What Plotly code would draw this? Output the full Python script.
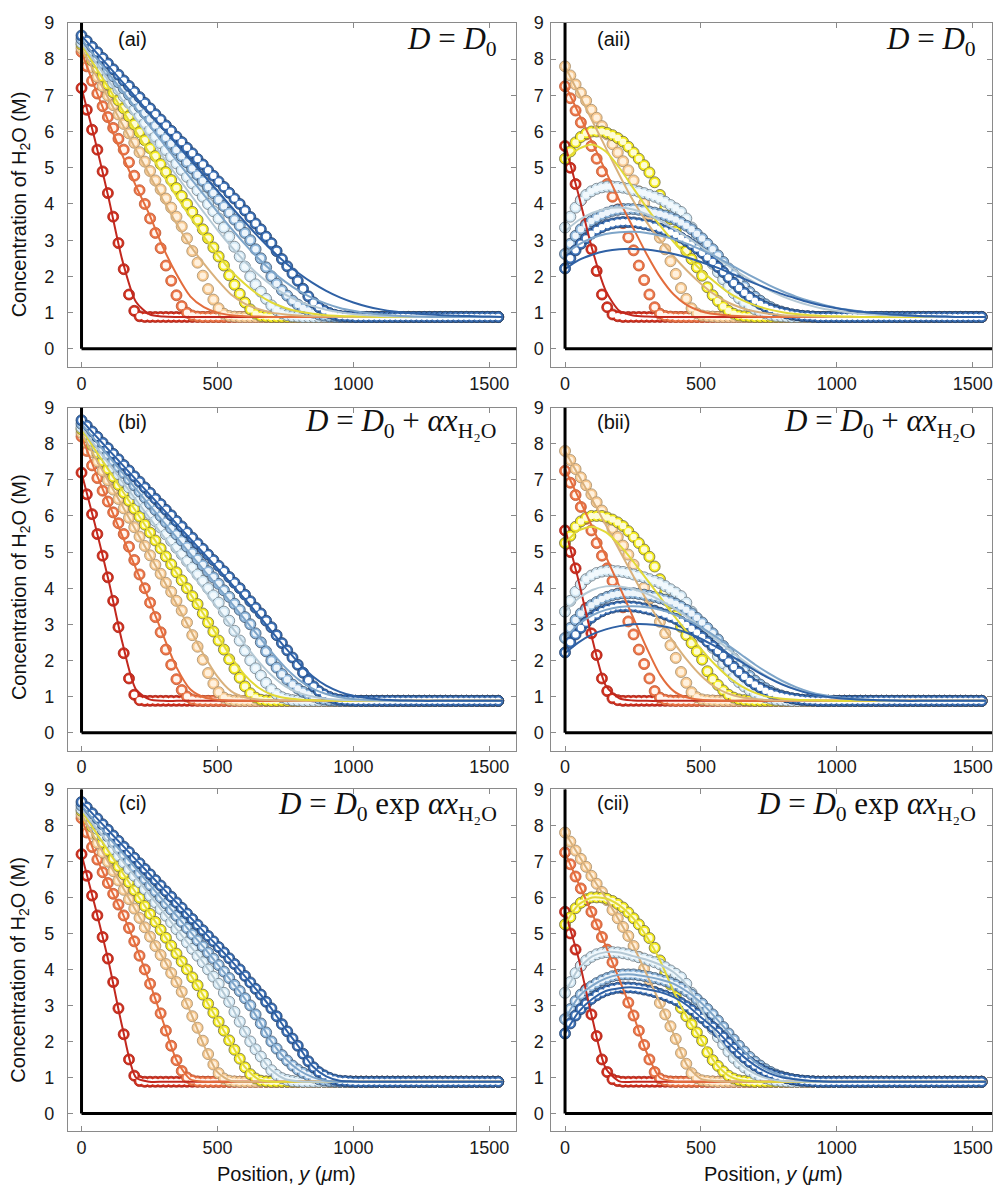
import plotly.graph_objects as go

W, H = 993, 1186

# ---- sampling grids (micrometres) ----------------------------------------
STEP_UM = 19.4
marker_pos = [round(i * STEP_UM, 1) for i in range(80)]
fit_pos = [50 * k for k in range(32)]

# ---- measured H2O profiles, column (i)  (M), one value per marker position
mi_red = [
    7.2, 6.6, 6.05, 5.5, 4.9, 4.3, 3.65, 2.92, 2.2, 1.5,
    1.05, 0.9, 0.88, 0.88, 0.88, 0.88, 0.88, 0.88, 0.88, 0.88,
    0.88, 0.88, 0.88, 0.88, 0.88, 0.88, 0.88, 0.88, 0.88, 0.88,
    0.88, 0.88, 0.88, 0.88, 0.88, 0.88, 0.88, 0.88, 0.88, 0.88,
    0.88, 0.88, 0.88, 0.88, 0.88, 0.88, 0.88, 0.88, 0.88, 0.88,
    0.88, 0.88, 0.88, 0.88, 0.88, 0.88, 0.88, 0.88, 0.88, 0.88,
    0.88, 0.88, 0.88, 0.88, 0.88, 0.88, 0.88, 0.88, 0.88, 0.88,
    0.88, 0.88, 0.88, 0.88, 0.88, 0.88, 0.88, 0.88, 0.88, 0.88,
]
mi_orange = [
    8.2, 7.8, 7.4, 7.05, 6.7, 6.4, 6.1, 5.8, 5.5, 5.15,
    4.78, 4.38, 4.0, 3.6, 3.2, 2.78, 2.3, 1.88, 1.48, 1.18,
    1.0, 0.92, 0.89, 0.88, 0.88, 0.88, 0.88, 0.88, 0.88, 0.88,
    0.88, 0.88, 0.88, 0.88, 0.88, 0.88, 0.88, 0.88, 0.88, 0.88,
    0.88, 0.88, 0.88, 0.88, 0.88, 0.88, 0.88, 0.88, 0.88, 0.88,
    0.88, 0.88, 0.88, 0.88, 0.88, 0.88, 0.88, 0.88, 0.88, 0.88,
    0.88, 0.88, 0.88, 0.88, 0.88, 0.88, 0.88, 0.88, 0.88, 0.88,
    0.88, 0.88, 0.88, 0.88, 0.88, 0.88, 0.88, 0.88, 0.88, 0.88,
]
mi_peach = [
    8.3, 8.03, 7.77, 7.51, 7.25, 6.99, 6.73, 6.47, 6.21, 5.95,
    5.69, 5.43, 5.17, 4.91, 4.65, 4.4, 4.15, 3.9, 3.65, 3.38,
    3.05, 2.7, 2.38, 2.02, 1.65, 1.36, 1.12, 0.97, 0.91, 0.89,
    0.88, 0.88, 0.88, 0.88, 0.88, 0.88, 0.88, 0.88, 0.88, 0.88,
    0.88, 0.88, 0.88, 0.88, 0.88, 0.88, 0.88, 0.88, 0.88, 0.88,
    0.88, 0.88, 0.88, 0.88, 0.88, 0.88, 0.88, 0.88, 0.88, 0.88,
    0.88, 0.88, 0.88, 0.88, 0.88, 0.88, 0.88, 0.88, 0.88, 0.88,
    0.88, 0.88, 0.88, 0.88, 0.88, 0.88, 0.88, 0.88, 0.88, 0.88,
]
mi_yellow = [
    8.4, 8.18, 7.96, 7.74, 7.52, 7.3, 7.08, 6.86, 6.64, 6.42,
    6.2, 5.98, 5.76, 5.54, 5.32, 5.1, 4.88, 4.66, 4.44, 4.22,
    4.0, 3.78, 3.56, 3.3, 3.05, 2.8, 2.55, 2.3, 2.03, 1.77,
    1.52, 1.28, 1.09, 0.97, 0.91, 0.89, 0.88, 0.88, 0.88, 0.88,
    0.88, 0.88, 0.88, 0.88, 0.88, 0.88, 0.88, 0.88, 0.88, 0.88,
    0.88, 0.88, 0.88, 0.88, 0.88, 0.88, 0.88, 0.88, 0.88, 0.88,
    0.88, 0.88, 0.88, 0.88, 0.88, 0.88, 0.88, 0.88, 0.88, 0.88,
    0.88, 0.88, 0.88, 0.88, 0.88, 0.88, 0.88, 0.88, 0.88, 0.88,
]
mi_pale = [
    8.45, 8.27, 8.08, 7.9, 7.71, 7.53, 7.34, 7.16, 6.97, 6.79,
    6.6, 6.42, 6.23, 6.05, 5.86, 5.68, 5.49, 5.31, 5.12, 4.94,
    4.75, 4.57, 4.38, 4.2, 4.0, 3.8, 3.6, 3.35, 3.1, 2.82,
    2.55, 2.27, 2.0, 1.78, 1.58, 1.38, 1.2, 1.07, 0.98, 0.93,
    0.9, 0.89, 0.88, 0.88, 0.88, 0.88, 0.88, 0.88, 0.88, 0.88,
    0.88, 0.88, 0.88, 0.88, 0.88, 0.88, 0.88, 0.88, 0.88, 0.88,
    0.88, 0.88, 0.88, 0.88, 0.88, 0.88, 0.88, 0.88, 0.88, 0.88,
    0.88, 0.88, 0.88, 0.88, 0.88, 0.88, 0.88, 0.88, 0.88, 0.88,
]
mi_light = [
    8.55, 8.38, 8.21, 8.04, 7.87, 7.7, 7.53, 7.36, 7.19, 7.02,
    6.85, 6.68, 6.51, 6.34, 6.17, 6.0, 5.83, 5.66, 5.49, 5.32,
    5.15, 4.98, 4.81, 4.64, 4.47, 4.3, 4.12, 3.94, 3.76, 3.57,
    3.4, 3.2, 3.0, 2.75, 2.5, 2.25, 2.0, 1.8, 1.62, 1.47,
    1.33, 1.22, 1.13, 1.06, 1.0, 0.95, 0.92, 0.9, 0.89, 0.88,
    0.88, 0.88, 0.88, 0.88, 0.88, 0.88, 0.88, 0.88, 0.88, 0.88,
    0.88, 0.88, 0.88, 0.88, 0.88, 0.88, 0.88, 0.88, 0.88, 0.88,
    0.88, 0.88, 0.88, 0.88, 0.88, 0.88, 0.88, 0.88, 0.88, 0.88,
]
mi_dark = [
    8.65, 8.5, 8.34, 8.19, 8.03, 7.88, 7.72, 7.57, 7.41, 7.26,
    7.1, 6.95, 6.79, 6.64, 6.48, 6.33, 6.17, 6.02, 5.86, 5.71,
    5.55, 5.4, 5.24, 5.09, 4.93, 4.78, 4.62, 4.47, 4.31, 4.15,
    4.0, 3.82, 3.64, 3.46, 3.3, 3.1, 2.92, 2.7, 2.48, 2.28,
    2.08, 1.88, 1.66, 1.45, 1.28, 1.15, 1.06, 0.99, 0.94, 0.91,
    0.9, 0.89, 0.88, 0.88, 0.88, 0.88, 0.88, 0.88, 0.88, 0.88,
    0.88, 0.88, 0.88, 0.88, 0.88, 0.88, 0.88, 0.88, 0.88, 0.88,
    0.88, 0.88, 0.88, 0.88, 0.88, 0.88, 0.88, 0.88, 0.88, 0.88,
]

# ---- measured H2O profiles, column (ii) ------------------------------------
mii_red = [
    5.6, 5.0, 4.55, 4.1, 3.45, 2.75, 2.15, 1.5, 1.15, 0.95,
    0.9, 0.88, 0.88, 0.88, 0.88, 0.88, 0.88, 0.88, 0.88, 0.88,
    0.88, 0.88, 0.88, 0.88, 0.88, 0.88, 0.88, 0.88, 0.88, 0.88,
    0.88, 0.88, 0.88, 0.88, 0.88, 0.88, 0.88, 0.88, 0.88, 0.88,
    0.88, 0.88, 0.88, 0.88, 0.88, 0.88, 0.88, 0.88, 0.88, 0.88,
    0.88, 0.88, 0.88, 0.88, 0.88, 0.88, 0.88, 0.88, 0.88, 0.88,
    0.88, 0.88, 0.88, 0.88, 0.88, 0.88, 0.88, 0.88, 0.88, 0.88,
    0.88, 0.88, 0.88, 0.88, 0.88, 0.88, 0.88, 0.88, 0.88, 0.88,
]
mii_orange = [
    7.25, 6.92, 6.58, 6.25, 5.92, 5.6, 5.25, 4.9, 4.55, 4.2,
    3.85, 3.47, 3.08, 2.72, 2.3, 1.9, 1.5, 1.15, 0.97, 0.91,
    0.89, 0.88, 0.88, 0.88, 0.88, 0.88, 0.88, 0.88, 0.88, 0.88,
    0.88, 0.88, 0.88, 0.88, 0.88, 0.88, 0.88, 0.88, 0.88, 0.88,
    0.88, 0.88, 0.88, 0.88, 0.88, 0.88, 0.88, 0.88, 0.88, 0.88,
    0.88, 0.88, 0.88, 0.88, 0.88, 0.88, 0.88, 0.88, 0.88, 0.88,
    0.88, 0.88, 0.88, 0.88, 0.88, 0.88, 0.88, 0.88, 0.88, 0.88,
    0.88, 0.88, 0.88, 0.88, 0.88, 0.88, 0.88, 0.88, 0.88, 0.88,
]
mii_peach = [
    7.8, 7.55, 7.3, 7.07, 6.85, 6.6, 6.38, 6.15, 5.92, 5.65,
    5.42, 5.18, 4.93, 4.65, 4.35, 4.02, 3.7, 3.38, 3.07, 2.75,
    2.42, 2.07, 1.68, 1.38, 1.12, 0.98, 0.92, 0.9, 0.89, 0.88,
    0.88, 0.88, 0.88, 0.88, 0.88, 0.88, 0.88, 0.88, 0.88, 0.88,
    0.88, 0.88, 0.88, 0.88, 0.88, 0.88, 0.88, 0.88, 0.88, 0.88,
    0.88, 0.88, 0.88, 0.88, 0.88, 0.88, 0.88, 0.88, 0.88, 0.88,
    0.88, 0.88, 0.88, 0.88, 0.88, 0.88, 0.88, 0.88, 0.88, 0.88,
    0.88, 0.88, 0.88, 0.88, 0.88, 0.88, 0.88, 0.88, 0.88, 0.88,
]
mii_yellow = [
    5.25, 5.45, 5.7, 5.85, 5.95, 6.0, 6.0, 6.0, 5.96, 5.9,
    5.82, 5.72, 5.58, 5.42, 5.25, 5.07, 4.87, 4.6, 4.25, 3.9,
    3.58, 3.25, 2.93, 2.7, 2.48, 2.25, 2.02, 1.7, 1.48, 1.32,
    1.17, 1.05, 0.97, 0.92, 0.9, 0.89, 0.88, 0.88, 0.88, 0.88,
    0.88, 0.88, 0.88, 0.88, 0.88, 0.88, 0.88, 0.88, 0.88, 0.88,
    0.88, 0.88, 0.88, 0.88, 0.88, 0.88, 0.88, 0.88, 0.88, 0.88,
    0.88, 0.88, 0.88, 0.88, 0.88, 0.88, 0.88, 0.88, 0.88, 0.88,
    0.88, 0.88, 0.88, 0.88, 0.88, 0.88, 0.88, 0.88, 0.88, 0.88,
]
mii_pale = [
    3.35, 3.65, 3.9, 4.1, 4.25, 4.35, 4.42, 4.46, 4.48, 4.48,
    4.47, 4.45, 4.42, 4.38, 4.34, 4.3, 4.25, 4.2, 4.14, 4.06,
    3.97, 3.88, 3.78, 3.6, 3.35, 3.1, 2.85, 2.6, 2.35, 2.12,
    1.92, 1.72, 1.54, 1.4, 1.28, 1.18, 1.1, 1.03, 0.98, 0.94,
    0.91, 0.9, 0.89, 0.88, 0.88, 0.88, 0.88, 0.88, 0.88, 0.88,
    0.88, 0.88, 0.88, 0.88, 0.88, 0.88, 0.88, 0.88, 0.88, 0.88,
    0.88, 0.88, 0.88, 0.88, 0.88, 0.88, 0.88, 0.88, 0.88, 0.88,
    0.88, 0.88, 0.88, 0.88, 0.88, 0.88, 0.88, 0.88, 0.88, 0.88,
]
mii_light = [
    2.62, 2.9, 3.12, 3.3, 3.42, 3.53, 3.62, 3.7, 3.76, 3.81,
    3.84, 3.86, 3.86, 3.86, 3.84, 3.82, 3.79, 3.76, 3.72, 3.68,
    3.63, 3.57, 3.49, 3.4, 3.3, 3.18, 3.05, 2.9, 2.75, 2.58,
    2.4, 2.22, 2.05, 1.88, 1.72, 1.57, 1.44, 1.33, 1.23, 1.15,
    1.08, 1.03, 0.99, 0.95, 0.93, 0.91, 0.9, 0.89, 0.88, 0.88,
    0.88, 0.88, 0.88, 0.88, 0.88, 0.88, 0.88, 0.88, 0.88, 0.88,
    0.88, 0.88, 0.88, 0.88, 0.88, 0.88, 0.88, 0.88, 0.88, 0.88,
    0.88, 0.88, 0.88, 0.88, 0.88, 0.88, 0.88, 0.88, 0.88, 0.88,
]
mii_dark = [
    2.22, 2.5, 2.72, 2.9, 3.05, 3.18, 3.28, 3.36, 3.42, 3.46,
    3.49, 3.5, 3.5, 3.49, 3.47, 3.44, 3.41, 3.37, 3.32, 3.27,
    3.21, 3.15, 3.07, 2.98, 2.88, 2.77, 2.65, 2.52, 2.4, 2.26,
    2.12, 1.97, 1.82, 1.68, 1.55, 1.43, 1.33, 1.24, 1.16, 1.1,
    1.05, 1.01, 0.98, 0.95, 0.93, 0.91, 0.9, 0.89, 0.88, 0.88,
    0.88, 0.88, 0.88, 0.88, 0.88, 0.88, 0.88, 0.88, 0.88, 0.88,
    0.88, 0.88, 0.88, 0.88, 0.88, 0.88, 0.88, 0.88, 0.88, 0.88,
    0.88, 0.88, 0.88, 0.88, 0.88, 0.88, 0.88, 0.88, 0.88, 0.88,
]

# ---- model fits, one value every 50 um (0 ... 1550) ------------------------
# row (a): D = D0
fa_i_red = [7.2, 5.75, 4.15, 2.45, 1.3, 0.95, 0.89, 0.88,
            0.88, 0.88, 0.88, 0.88, 0.88, 0.88, 0.88, 0.88,
            0.88, 0.88, 0.88, 0.88, 0.88, 0.88, 0.88, 0.88,
            0.88, 0.88, 0.88, 0.88, 0.88, 0.88, 0.88, 0.88]
fa_i_orange = [8.2, 7.2, 6.25, 5.35, 4.5, 3.7, 2.8, 2.05,
               1.45, 1.15, 1.0, 0.93, 0.9, 0.89, 0.88, 0.88,
               0.88, 0.88, 0.88, 0.88, 0.88, 0.88, 0.88, 0.88,
               0.88, 0.88, 0.88, 0.88, 0.88, 0.88, 0.88, 0.88]
fa_i_peach = [8.3, 7.6, 6.9, 6.2, 5.5, 4.8, 4.1, 3.45,
              2.85, 2.35, 1.9, 1.5, 1.25, 1.1, 1.0, 0.95,
              0.92, 0.9, 0.89, 0.88, 0.88, 0.88, 0.88, 0.88,
              0.88, 0.88, 0.88, 0.88, 0.88, 0.88, 0.88, 0.88]
fa_i_yellow = [8.4, 7.8, 7.2, 6.6, 6.0, 5.4, 4.8, 4.2,
               3.65, 3.1, 2.6, 2.15, 1.8, 1.5, 1.28, 1.13,
               1.03, 0.97, 0.93, 0.91, 0.9, 0.89, 0.88, 0.88,
               0.88, 0.88, 0.88, 0.88, 0.88, 0.88, 0.88, 0.88]
fa_i_pale = [8.45, 7.92, 7.4, 6.87, 6.35, 5.82, 5.3, 4.78,
             4.27, 3.77, 3.28, 2.83, 2.42, 2.05, 1.75, 1.5,
             1.32, 1.18, 1.08, 1.01, 0.96, 0.93, 0.91, 0.9,
             0.89, 0.88, 0.88, 0.88, 0.88, 0.88, 0.88, 0.88]
fa_i_light = [8.55, 8.07, 7.6, 7.12, 6.64, 6.16, 5.68, 5.2,
              4.72, 4.25, 3.78, 3.33, 2.9, 2.5, 2.15, 1.85,
              1.6, 1.4, 1.25, 1.13, 1.05, 0.99, 0.95, 0.92,
              0.9, 0.89, 0.88, 0.88, 0.88, 0.88, 0.88, 0.88]
fa_i_dark = [8.65, 8.22, 7.8, 7.37, 6.94, 6.51, 6.08, 5.65,
             5.22, 4.79, 4.36, 3.93, 3.51, 3.1, 2.72, 2.38,
             2.08, 1.82, 1.6, 1.42, 1.28, 1.17, 1.09, 1.03,
             0.99, 0.96, 0.94, 0.92, 0.91, 0.9, 0.89, 0.88]

fa_ii_red = [5.65, 4.25, 2.75, 1.6, 1.05, 0.92, 0.89, 0.88,
             0.88, 0.88, 0.88, 0.88, 0.88, 0.88, 0.88, 0.88,
             0.88, 0.88, 0.88, 0.88, 0.88, 0.88, 0.88, 0.88,
             0.88, 0.88, 0.88, 0.88, 0.88, 0.88, 0.88, 0.88]
fa_ii_orange = [7.3, 6.5, 5.7, 4.9, 4.1, 3.35, 2.62, 1.98,
                1.5, 1.2, 1.04, 0.96, 0.92, 0.9, 0.89, 0.88,
                0.88, 0.88, 0.88, 0.88, 0.88, 0.88, 0.88, 0.88,
                0.88, 0.88, 0.88, 0.88, 0.88, 0.88, 0.88, 0.88]
fa_ii_peach = [7.8, 7.05, 6.3, 5.55, 4.8, 4.1, 3.5, 3.0,
               2.55, 2.15, 1.8, 1.5, 1.28, 1.13, 1.03, 0.97,
               0.93, 0.91, 0.9, 0.89, 0.88, 0.88, 0.88, 0.88,
               0.88, 0.88, 0.88, 0.88, 0.88, 0.88, 0.88, 0.88]
fa_ii_yellow = [5.2, 5.52, 5.64, 5.45, 5.0, 4.45, 3.9, 3.4,
                2.95, 2.55, 2.18, 1.85, 1.56, 1.35, 1.2, 1.09,
                1.01, 0.96, 0.93, 0.91, 0.9, 0.89, 0.88, 0.88,
                0.88, 0.88, 0.88, 0.88, 0.88, 0.88, 0.88, 0.88]
fa_ii_pale = [3.25, 3.55, 3.75, 3.87, 3.9, 3.85, 3.72, 3.54,
              3.32, 3.08, 2.82, 2.56, 2.3, 2.05, 1.82, 1.62,
              1.45, 1.31, 1.2, 1.11, 1.05, 1.0, 0.96, 0.94,
              0.92, 0.91, 0.9, 0.89, 0.88, 0.88, 0.88, 0.88]
fa_ii_light = [2.62, 2.88, 3.06, 3.17, 3.22, 3.23, 3.2, 3.13,
               3.03, 2.9, 2.74, 2.56, 2.36, 2.15, 1.95, 1.76,
               1.59, 1.44, 1.32, 1.22, 1.13, 1.07, 1.02, 0.98,
               0.95, 0.93, 0.91, 0.9, 0.89, 0.88, 0.88, 0.88]
fa_ii_dark = [2.2, 2.45, 2.6, 2.7, 2.75, 2.76, 2.74, 2.69,
              2.62, 2.52, 2.4, 2.27, 2.12, 1.96, 1.8, 1.65,
              1.51, 1.39, 1.28, 1.19, 1.12, 1.06, 1.02, 0.98,
              0.95, 0.93, 0.91, 0.9, 0.89, 0.88, 0.88, 0.88]

# row (b): D = D0 + alpha * x_H2O
fb_i_red = [7.2, 5.75, 4.2, 2.5, 1.2, 0.92, 0.88, 0.88,
            0.88, 0.88, 0.88, 0.88, 0.88, 0.88, 0.88, 0.88,
            0.88, 0.88, 0.88, 0.88, 0.88, 0.88, 0.88, 0.88,
            0.88, 0.88, 0.88, 0.88, 0.88, 0.88, 0.88, 0.88]
fb_i_orange = [8.2, 7.25, 6.35, 5.45, 4.55, 3.65, 2.7, 1.8,
               1.2, 0.98, 0.91, 0.89, 0.88, 0.88, 0.88, 0.88,
               0.88, 0.88, 0.88, 0.88, 0.88, 0.88, 0.88, 0.88,
               0.88, 0.88, 0.88, 0.88, 0.88, 0.88, 0.88, 0.88]
fb_i_peach = [8.3, 7.62, 6.95, 6.28, 5.6, 4.93, 4.25, 3.55,
              2.85, 2.15, 1.55, 1.15, 0.98, 0.92, 0.9, 0.89,
              0.88, 0.88, 0.88, 0.88, 0.88, 0.88, 0.88, 0.88,
              0.88, 0.88, 0.88, 0.88, 0.88, 0.88, 0.88, 0.88]
fb_i_yellow = [8.4, 7.83, 7.27, 6.7, 6.13, 5.56, 4.99, 4.42,
               3.85, 3.27, 2.68, 2.1, 1.6, 1.25, 1.05, 0.96,
               0.92, 0.9, 0.89, 0.88, 0.88, 0.88, 0.88, 0.88,
               0.88, 0.88, 0.88, 0.88, 0.88, 0.88, 0.88, 0.88]
fb_i_pale = [8.45, 7.95, 7.45, 6.95, 6.45, 5.95, 5.45, 4.95,
             4.45, 3.95, 3.45, 2.95, 2.45, 1.98, 1.58, 1.28,
             1.1, 1.0, 0.94, 0.91, 0.9, 0.89, 0.88, 0.88,
             0.88, 0.88, 0.88, 0.88, 0.88, 0.88, 0.88, 0.88]
fb_i_light = [8.55, 8.1, 7.65, 7.2, 6.75, 6.3, 5.85, 5.4,
              4.95, 4.5, 4.05, 3.6, 3.14, 2.68, 2.22, 1.8,
              1.46, 1.22, 1.07, 0.98, 0.93, 0.91, 0.9, 0.89,
              0.88, 0.88, 0.88, 0.88, 0.88, 0.88, 0.88, 0.88]
fb_i_dark = [8.65, 8.24, 7.83, 7.42, 7.01, 6.6, 6.19, 5.78,
             5.37, 4.96, 4.55, 4.13, 3.7, 3.26, 2.8, 2.35,
             1.92, 1.56, 1.3, 1.13, 1.02, 0.96, 0.92, 0.9,
             0.89, 0.88, 0.88, 0.88, 0.88, 0.88, 0.88, 0.88]

fb_ii_red = [5.65, 4.2, 2.6, 1.3, 0.95, 0.89, 0.88, 0.88,
             0.88, 0.88, 0.88, 0.88, 0.88, 0.88, 0.88, 0.88,
             0.88, 0.88, 0.88, 0.88, 0.88, 0.88, 0.88, 0.88,
             0.88, 0.88, 0.88, 0.88, 0.88, 0.88, 0.88, 0.88]
fb_ii_orange = [7.3, 6.5, 5.7, 4.88, 4.05, 3.2, 2.35, 1.6,
                1.15, 0.97, 0.91, 0.89, 0.88, 0.88, 0.88, 0.88,
                0.88, 0.88, 0.88, 0.88, 0.88, 0.88, 0.88, 0.88,
                0.88, 0.88, 0.88, 0.88, 0.88, 0.88, 0.88, 0.88]
fb_ii_peach = [7.8, 7.12, 6.45, 5.75, 5.05, 4.35, 3.67, 3.05,
               2.5, 2.0, 1.58, 1.27, 1.08, 0.98, 0.93, 0.9,
               0.89, 0.88, 0.88, 0.88, 0.88, 0.88, 0.88, 0.88,
               0.88, 0.88, 0.88, 0.88, 0.88, 0.88, 0.88, 0.88]
fb_ii_yellow = [5.25, 5.6, 5.7, 5.55, 5.2, 4.75, 4.25, 3.75,
                3.25, 2.78, 2.32, 1.9, 1.55, 1.28, 1.1, 0.99,
                0.94, 0.91, 0.9, 0.89, 0.88, 0.88, 0.88, 0.88,
                0.88, 0.88, 0.88, 0.88, 0.88, 0.88, 0.88, 0.88]
fb_ii_pale = [3.35, 3.72, 3.95, 4.05, 4.05, 3.98, 3.85, 3.67,
              3.45, 3.2, 2.92, 2.62, 2.32, 2.03, 1.76, 1.53,
              1.34, 1.2, 1.09, 1.01, 0.96, 0.93, 0.91, 0.9,
              0.89, 0.88, 0.88, 0.88, 0.88, 0.88, 0.88, 0.88]
fb_ii_light = [2.62, 3.0, 3.25, 3.4, 3.48, 3.5, 3.47, 3.4,
               3.28, 3.12, 2.92, 2.68, 2.42, 2.15, 1.88, 1.64,
               1.43, 1.26, 1.13, 1.04, 0.98, 0.94, 0.92, 0.9,
               0.89, 0.88, 0.88, 0.88, 0.88, 0.88, 0.88, 0.88]
fb_ii_dark = [2.2, 2.5, 2.72, 2.86, 2.95, 3.0, 3.0, 2.96,
              2.88, 2.76, 2.6, 2.4, 2.18, 1.95, 1.72, 1.51,
              1.33, 1.19, 1.08, 1.01, 0.96, 0.93, 0.91, 0.9,
              0.89, 0.88, 0.88, 0.88, 0.88, 0.88, 0.88, 0.88]

# row (c): D = D0 exp(alpha * x_H2O)
fc_i_red = [7.2, 5.75, 4.2, 2.4, 1.0, 0.88, 0.88, 0.88,
            0.88, 0.88, 0.88, 0.88, 0.88, 0.88, 0.88, 0.88,
            0.88, 0.88, 0.88, 0.88, 0.88, 0.88, 0.88, 0.88,
            0.88, 0.88, 0.88, 0.88, 0.88, 0.88, 0.88, 0.88]
fc_i_orange = [8.2, 7.2, 6.35, 5.57, 4.65, 3.65, 2.55, 1.47,
               0.95, 0.88, 0.88, 0.88, 0.88, 0.88, 0.88, 0.88,
               0.88, 0.88, 0.88, 0.88, 0.88, 0.88, 0.88, 0.88,
               0.88, 0.88, 0.88, 0.88, 0.88, 0.88, 0.88, 0.88]
fc_i_peach = [8.3, 7.63, 6.96, 6.3, 5.63, 4.97, 4.32, 3.64,
              2.83, 1.9, 1.15, 0.9, 0.88, 0.88, 0.88, 0.88,
              0.88, 0.88, 0.88, 0.88, 0.88, 0.88, 0.88, 0.88,
              0.88, 0.88, 0.88, 0.88, 0.88, 0.88, 0.88, 0.88]
fc_i_yellow = [8.4, 7.84, 7.27, 6.7, 6.13, 5.57, 5.0, 4.43,
               3.87, 3.25, 2.6, 1.95, 1.3, 0.95, 0.88, 0.88,
               0.88, 0.88, 0.88, 0.88, 0.88, 0.88, 0.88, 0.88,
               0.88, 0.88, 0.88, 0.88, 0.88, 0.88, 0.88, 0.88]
fc_i_pale = [8.45, 7.97, 7.5, 7.02, 6.55, 6.07, 5.6, 5.12,
             4.65, 4.17, 3.62, 3.0, 2.28, 1.68, 1.19, 0.95,
             0.89, 0.88, 0.88, 0.88, 0.88, 0.88, 0.88, 0.88,
             0.88, 0.88, 0.88, 0.88, 0.88, 0.88, 0.88, 0.88]
fc_i_light = [8.55, 8.11, 7.67, 7.24, 6.8, 6.36, 5.92, 5.49,
              5.05, 4.61, 4.15, 3.69, 3.2, 2.62, 1.98, 1.52,
              1.2, 1.01, 0.91, 0.88, 0.88, 0.88, 0.88, 0.88,
              0.88, 0.88, 0.88, 0.88, 0.88, 0.88, 0.88, 0.88]
fc_i_dark = [8.65, 8.25, 7.85, 7.45, 7.05, 6.65, 6.25, 5.85,
             5.45, 5.05, 4.65, 4.25, 3.82, 3.38, 2.9, 2.35,
             1.84, 1.31, 1.03, 0.91, 0.89, 0.88, 0.88, 0.88,
             0.88, 0.88, 0.88, 0.88, 0.88, 0.88, 0.88, 0.88]

fc_ii_red = [5.6, 4.3, 2.65, 1.25, 0.89, 0.88, 0.88, 0.88,
             0.88, 0.88, 0.88, 0.88, 0.88, 0.88, 0.88, 0.88,
             0.88, 0.88, 0.88, 0.88, 0.88, 0.88, 0.88, 0.88,
             0.88, 0.88, 0.88, 0.88, 0.88, 0.88, 0.88, 0.88]
fc_ii_orange = [7.25, 6.38, 5.55, 4.65, 3.72, 2.76, 1.7, 0.99,
                0.89, 0.88, 0.88, 0.88, 0.88, 0.88, 0.88, 0.88,
                0.88, 0.88, 0.88, 0.88, 0.88, 0.88, 0.88, 0.88,
                0.88, 0.88, 0.88, 0.88, 0.88, 0.88, 0.88, 0.88]
fc_ii_peach = [7.8, 7.17, 6.56, 5.98, 5.35, 4.67, 3.87, 3.06,
               2.2, 1.33, 0.96, 0.9, 0.88, 0.88, 0.88, 0.88,
               0.88, 0.88, 0.88, 0.88, 0.88, 0.88, 0.88, 0.88,
               0.88, 0.88, 0.88, 0.88, 0.88, 0.88, 0.88, 0.88]
fc_ii_yellow = [5.25, 5.8, 6.0, 5.97, 5.78, 5.43, 4.92, 4.24,
                3.38, 2.66, 2.07, 1.43, 1.06, 0.92, 0.89, 0.88,
                0.88, 0.88, 0.88, 0.88, 0.88, 0.88, 0.88, 0.88,
                0.88, 0.88, 0.88, 0.88, 0.88, 0.88, 0.88, 0.88]
fc_ii_pale = [3.35, 4.02, 4.36, 4.48, 4.47, 4.37, 4.27, 4.13,
              3.92, 3.55, 2.9, 2.27, 1.73, 1.34, 1.1, 0.96,
              0.9, 0.89, 0.88, 0.88, 0.88, 0.88, 0.88, 0.88,
              0.88, 0.88, 0.88, 0.88, 0.88, 0.88, 0.88, 0.88]
fc_ii_light = [2.62, 3.24, 3.55, 3.75, 3.85, 3.86, 3.8, 3.72,
               3.6, 3.38, 3.08, 2.69, 2.26, 1.8, 1.42, 1.19,
               1.04, 0.94, 0.9, 0.89, 0.88, 0.88, 0.88, 0.88,
               0.88, 0.88, 0.88, 0.88, 0.88, 0.88, 0.88, 0.88]
fc_ii_dark = [2.22, 2.82, 3.18, 3.4, 3.48, 3.5, 3.45, 3.37,
              3.23, 3.0, 2.67, 2.36, 1.97, 1.62, 1.33, 1.12,
              1.0, 0.95, 0.91, 0.89, 0.88, 0.88, 0.88, 0.88,
              0.88, 0.88, 0.88, 0.88, 0.88, 0.88, 0.88, 0.88]

# ---- labels ------------------------------------------------------------------
panel_tags = ["(ai)", "(aii)", "(bi)", "(bii)", "(ci)", "(cii)"]
model_labels = [
    "<i>D</i> = <i>D</i><sub>0</sub>",
    "<i>D</i> = <i>D</i><sub>0</sub> + <i>αx</i><sub>H₂O</sub>",
    "<i>D</i> = <i>D</i><sub>0</sub> exp <i>αx</i><sub>H₂O</sub>",
]
x_ticks = [0, 500, 1000, 1500]
y_ticks = [0, 1, 2, 3, 4, 5, 6, 7, 8, 9]
x_title = "Position, <i>y</i> (<i>μ</i>m)"
y_title = "Concentration of H<sub>2</sub>O (M)"

# ---- styling -----------------------------------------------------------------
ring_colors = ["#d2321f", "#ee7649", "#f8ca92", "#f5ec1c", "#d3e8f4", "#8fb7dc", "#3d71b6"]
inner_colors = ["#ffffff", "#fff6ef", "#fff1de", "#fefcd8", "#f2f9fd", "#eef5fb", "#ffffff"]
edge_colors = ["#a52016", "#bb5530", "#a48b68", "#6e6a3c", "#6c7a84", "#3e5570", "#1d3c69"]
line_colors = ["#c2281e", "#e36d3d", "#d9b17c", "#e2d938", "#b5c9d5", "#7ea5c9", "#2f61a5"]

SANS = "Liberation Sans, Arial, sans-serif"
SERIF = "Liberation Serif, Times New Roman, serif"
row_px = [(13, 360), (401, 747), (786, 1131)]
col_px = [(68, 517), (552, 993)]
x_ranges = [[-50, 1600], [-50, 1571]]
y_range = [-0.5, 9]

markers_i = [mi_red, mi_orange, mi_peach, mi_yellow, mi_pale, mi_light, mi_dark]
markers_ii = [mii_red, mii_orange, mii_peach, mii_yellow, mii_pale, mii_light, mii_dark]
fits = [
    [fa_i_red, fa_i_orange, fa_i_peach, fa_i_yellow, fa_i_pale, fa_i_light, fa_i_dark],
    [fa_ii_red, fa_ii_orange, fa_ii_peach, fa_ii_yellow, fa_ii_pale, fa_ii_light, fa_ii_dark],
    [fb_i_red, fb_i_orange, fb_i_peach, fb_i_yellow, fb_i_pale, fb_i_light, fb_i_dark],
    [fb_ii_red, fb_ii_orange, fb_ii_peach, fb_ii_yellow, fb_ii_pale, fb_ii_light, fb_ii_dark],
    [fc_i_red, fc_i_orange, fc_i_peach, fc_i_yellow, fc_i_pale, fc_i_light, fc_i_dark],
    [fc_ii_red, fc_ii_orange, fc_ii_peach, fc_ii_yellow, fc_ii_pale, fc_ii_light, fc_ii_dark],
]


def px_x(v):
    return v / W


def px_y(v):
    return 1 - v / H


fig = go.Figure()
layout_axes = {}
shapes = []
annotations = []

for k in range(6):
    r, c = divmod(k, 2)
    sfx = "" if k == 0 else str(k + 1)
    xa, ya = "x" + sfx, "y" + sfx
    top, bottom = row_px[r]
    left, right = col_px[c]

    axis_common = dict(
        showline=True, linecolor="#8a8a8a", linewidth=1, mirror="ticks",
        ticks="inside", ticklen=5, tickwidth=1, tickcolor="#8a8a8a",
        showgrid=False, zeroline=False,
        tickfont=dict(family=SANS, size=18, color="#1a1a1a"),
    )
    layout_axes["xaxis" + sfx] = dict(
        axis_common, domain=[px_x(left), px_x(right)], range=x_ranges[c],
        anchor=ya, tickmode="array", tickvals=x_ticks, ticklabelstandoff=0,
    )
    layout_axes["yaxis" + sfx] = dict(
        axis_common, domain=[px_y(bottom), px_y(top)], range=y_range,
        anchor=xa, tickmode="array", tickvals=y_ticks,
        ticklabelstandoff=9 if c == 0 else 3,
    )

    # measured profiles: ring + pale centre for each marker
    data = markers_i if c == 0 else markers_ii
    for s, vals in enumerate(data):
        xs = marker_pos[:len(vals)]
        fig.add_trace(go.Scatter(
            x=xs, y=vals, mode="markers", xaxis=xa, yaxis=ya,
            marker=dict(size=11, color=ring_colors[s],
                        line=dict(color=edge_colors[s], width=0.8)),
            showlegend=False, hoverinfo="skip"))
        fig.add_trace(go.Scatter(
            x=xs, y=vals, mode="markers", xaxis=xa, yaxis=ya,
            marker=dict(size=6.5, color=inner_colors[s], line=dict(width=0)),
            showlegend=False, hoverinfo="skip"))

    # model curves on top
    for s, vals in enumerate(fits[k]):
        fig.add_trace(go.Scatter(
            x=fit_pos[:len(vals)], y=vals, mode="lines", xaxis=xa, yaxis=ya,
            line=dict(color=line_colors[s], width=2, shape="spline", smoothing=0.7),
            showlegend=False, hoverinfo="skip"))

    # heavy black reference axes through the origin
    shapes.append(dict(type="line", xref=xa, yref=ya, x0=0, x1=0, y0=0, y1=9,
                       line=dict(color="black", width=3)))
    shapes.append(dict(type="line", xref=xa, yref=ya, x0=0, x1=x_ranges[c][1], y0=0, y1=0,
                       line=dict(color="black", width=3)))

    # panel tag and diffusion-model label
    tag_x = 133 if c == 0 else 614
    tag_y = [29, 415, 800][r]
    annotations.append(dict(
        text=panel_tags[k], xref="paper", yref="paper", x=px_x(tag_x), y=px_y(tag_y),
        xanchor="center", yanchor="middle", showarrow=False,
        font=dict(family=SANS, size=20, color="#111")))
    eq_right = 500 if c == 0 else 979
    eq_y = [31, 417, 803][r]
    annotations.append(dict(
        text=model_labels[r], xref="paper", yref="paper", x=px_x(eq_right), y=px_y(eq_y),
        xanchor="right", yanchor="middle", showarrow=False,
        font=dict(family=SERIF, size=31, color="#111")))

    if c == 0:
        annotations.append(dict(
            text=y_title, xref="paper", yref="paper", x=px_x(20), y=px_y([196, 582, 968][r]),
            xanchor="center", yanchor="middle", textangle=-90, showarrow=False,
            font=dict(family=SANS, size=20, color="#111")))
    if r == 2:
        annotations.append(dict(
            text=x_title, xref="paper", yref="paper", x=px_x(287 if c == 0 else 774),
            y=px_y(1174), xanchor="center", yanchor="middle", showarrow=False,
            font=dict(family=SANS, size=20, color="#111")))

fig.update_layout(
    width=W, height=H,
    margin=dict(l=0, r=0, t=0, b=0),
    paper_bgcolor="white", plot_bgcolor="white",
    showlegend=False,
    shapes=shapes, annotations=annotations,
    **layout_axes,
)

fig.write_html("out.html")
